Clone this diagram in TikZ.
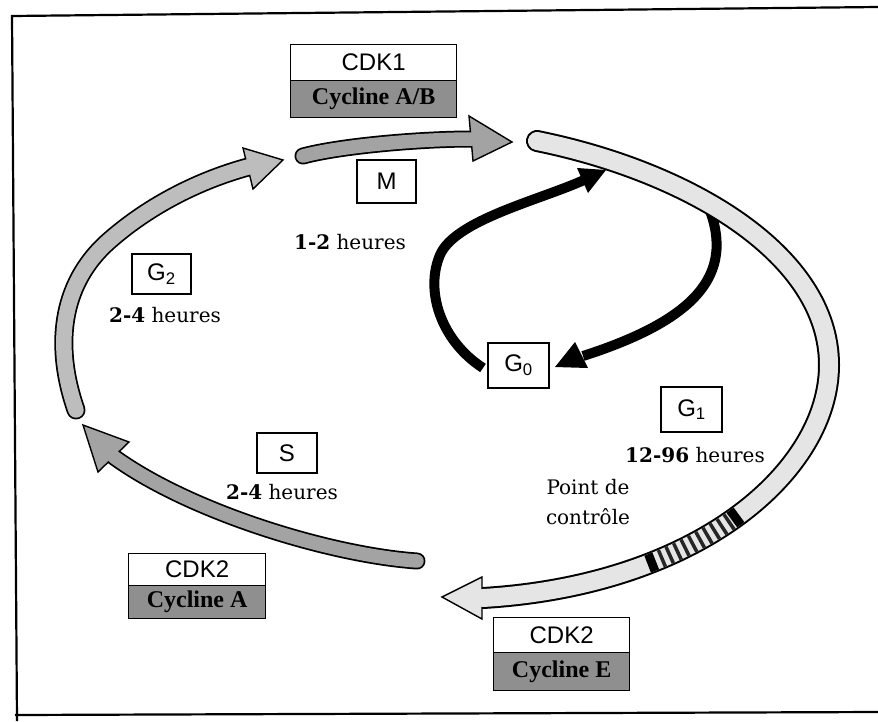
\documentclass[tikz,border=0pt]{standalone}
\usepackage{fontspec}
\setmainfont{DejaVu Serif}
\newfontfamily\arialf{Liberation Sans}
\newfontfamily\timesf{Liberation Serif}
\usetikzlibrary{calc}
\definecolor{phdark}{gray}{0.64}
\definecolor{phmid}{gray}{0.74}
\definecolor{phlight}{gray}{0.9}
\definecolor{cycg}{gray}{0.56}
\tikzset{
 frameline/.style={line width=2.2pt, black},
 cdkbox/.style={draw=black, line width=1.3pt, fill=white, inner sep=0pt, font=\arialf\fontsize{24}{24}\selectfont},
 cycbox/.style={draw=black, line width=1.3pt, fill=cycg, inner sep=0pt, font=\timesf\bfseries\fontsize{24}{24}\selectfont},
 phasebox/.style={draw=black, line width=1.2pt, fill=white, inner sep=0pt, font=\arialf\fontsize{24}{24}\selectfont},
 durlabel/.style={font=\fontsize{20}{30}\selectfont, inner sep=0pt, align=center},
 headshape/.style={draw=black, line width=1.4pt, line join=miter},
 g0arrow/.style={line width=10pt, black},
}
\begin{document}
\begin{tikzpicture}[x=1pt,y=-1pt]
\useasboundingbox (0,0) rectangle (878,721);
\fill[white] (0,0) rectangle (878,721);
% frame
\draw[frameline] (878,7) -- (12,16) -- (17,721);
\draw[frameline] (15,715) -- (878,712);

% ---- G0 arrows (black) ----
\coordinate (aS) at (483,368);
\coordinate (aE) at (584,180);
\draw[g0arrow] (aS) .. controls (440,340) and (425,290) .. (440,255) .. controls (455,220) and (540,200) .. (aE);
\fill (577,168) -- (606,170) -- (588,193) -- cycle;
\coordinate (bS) at (709,208);
\coordinate (bE) at (583,356);
\draw[g0arrow] (bS) .. controls (735,275) and (695,320) .. (bE);
\fill (575,342) -- (555,367) -- (588,368) -- cycle;

% ---- G1 band (light) ----
\coordinate (gS) at (537,141);
\coordinate (gE) at (483,598);
\draw[line width=22, black, line cap=round] (gS) .. controls (690,172) and (829,255) .. (829,365) .. controls (829,470) and (700,585) .. (gE);
\filldraw[headshape, fill=phlight] (482,577) -- (442,597) -- (482,619) -- cycle;
\draw[line width=18, phlight, line cap=round] (gS) .. controls (690,172) and (829,255) .. (829,365) .. controls (829,470) and (700,585) .. (gE);
% checkpoint hatch
\draw[line width=18, black!85, dash pattern=on 3.5pt off 5pt] (737.4,516) .. controls (712.45,534.27) and (682.72,550.51) .. (648.59,563.69);
\draw[line width=18, black] (739.0,514.8) -- (731.8,520.1);
\draw[line width=18, black] (655.6,561.0) -- (647.6,564.1);

% ---- M arrow ----
\coordinate (mT) at (303,156);
\coordinate (mE) at (472,139);
\draw[line width=17, black, line cap=round] (mT) .. controls (340,146) and (420,139) .. (mE);
\filldraw[headshape, fill=phdark] (469,116) -- (512,142) -- (473,161) -- cycle;
\draw[line width=13.5, phdark, line cap=round] (mT) .. controls (340,146) and (420,139) .. (mE);

% ---- G2 arrow ----
\coordinate (g2T) at (76,410);
\coordinate (g2E) at (248,167);
\draw[line width=19, black, line cap=round] (g2T) .. controls (55,350) and (58,285) .. (110,240) .. controls (150,205) and (200,180) .. (g2E);
\filldraw[headshape, fill=phmid] (243,148) -- (283,160) -- (253,189) -- cycle;
\draw[line width=15.5, phmid, line cap=round] (g2T) .. controls (55,350) and (58,285) .. (110,240) .. controls (150,205) and (200,180) .. (g2E);

% ---- S arrow ----
\coordinate (sT) at (417,561);
\coordinate (sE) at (114,457);
\draw[line width=17, black, line cap=round] (sT) .. controls (330,555) and (190,512) .. (sE);
\filldraw[headshape, fill=phdark] (129,442) -- (83,425) -- (98,472) -- cycle;
\draw[line width=13.5, phdark, line cap=round] (sT) .. controls (330,555) and (190,512) .. (sE);

% ---- CDK / cycline boxes ----
\node[cdkbox, minimum width=166, minimum height=36, anchor=north west] (cdk1) at (290,44) {CDK1};
\node[cycbox, minimum width=166, minimum height=37, anchor=north west] (cycAB) at (290,80) {Cycline A/B};
\node[cdkbox, minimum width=137, minimum height=32, anchor=north west] (cdk2a) at (128,553) {CDK2};
\node[cycbox, minimum width=137, minimum height=33, anchor=north west] (cycA) at (128,585) {Cycline A};
\node[cdkbox, minimum width=136, minimum height=35, anchor=north west] (cdk2e) at (493,617) {CDK2};
\node[cycbox, minimum width=136, minimum height=38, anchor=north west] (cycE) at (493,652) {Cycline E};

% ---- phase boxes ----
\node[phasebox, minimum width=59, minimum height=43] (M) at (386.5,181.5) {M};
\node[phasebox, minimum width=59, minimum height=40] (G2) at (161.5,274) {G\textsubscript{2}};
\node[phasebox, minimum width=60, minimum height=40] (S) at (287,453) {S};
\node[phasebox, minimum width=61, minimum height=45] (G0) at (518.5,365.5) {G\textsubscript{0}};
\node[phasebox, minimum width=61, minimum height=45] (G1) at (691.5,409.5) {G\textsubscript{1}};

% ---- durations ----
\node[durlabel] (dM) at (350,242) {\textbf{1-2} heures};
\node[durlabel] (dG2) at (165,315) {\textbf{2-4} heures};
\node[durlabel] (dS) at (282,492) {\textbf{2-4} heures};
\node[durlabel] (dG1) at (695,455) {\textbf{12-96} heures};
\node[durlabel] (pc) at (588,502) {Point de\\contrôle};
\end{tikzpicture}
\end{document}
